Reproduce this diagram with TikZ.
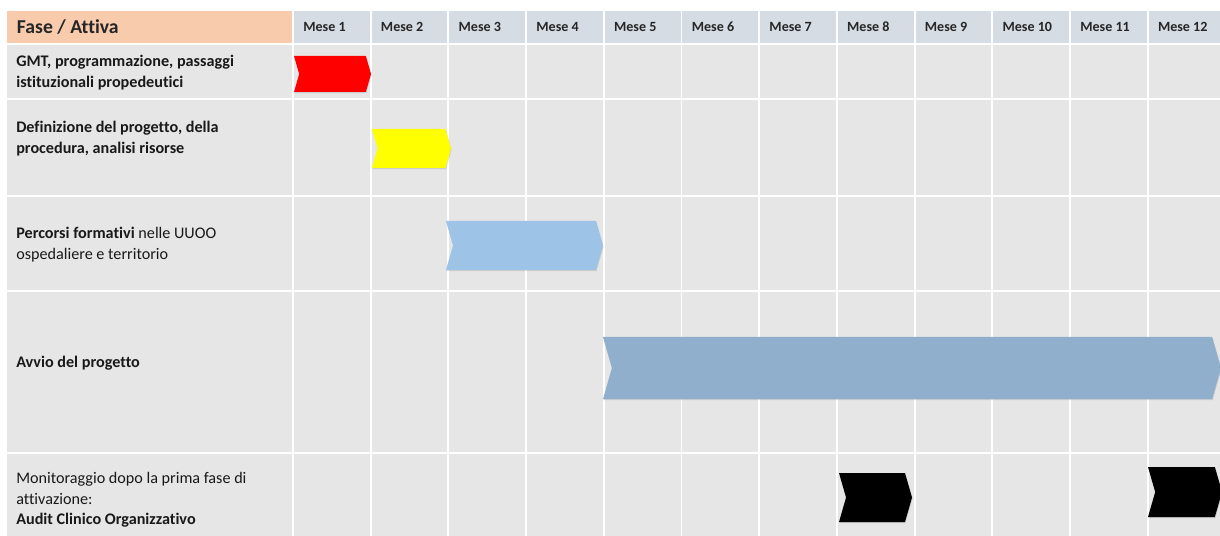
\documentclass[tikz,border=0pt]{standalone}
\usepackage{fontspec}
\setmainfont{Carlito}[Ligatures=NoCommon]
\usetikzlibrary{positioning,shapes.symbols,shadows}
\definecolor{peach}{HTML}{F8CBAD}
\definecolor{headblue}{HTML}{D5DCE4}
\definecolor{cellgray}{HTML}{E7E6E6}
\definecolor{barblue}{HTML}{9DC3E6}
\definecolor{bardark}{HTML}{8FAFCC}
\definecolor{barred}{HTML}{FF0000}
\definecolor{baryellow}{HTML}{FFFF00}

\tikzset{
  cell/.style={draw=white,line width=1.4pt},
  monthlbl/.style={anchor=west,inner sep=0pt,font=\fontsize{10}{12}\selectfont\bfseries,text=black!85},
  phaselbl/.style={anchor=west,align=left,inner sep=0pt,
    font=\fontsize{11.5}{14.5}\selectfont,text=black!90},
  chevron/.style={signal,signal to=east,signal from=west,signal pointer angle=148,
    draw=none,inner sep=0pt,drop shadow={opacity=0.25,shadow xshift=0.4pt,shadow yshift=-0.8pt}}
}

\begin{document}
\begin{tikzpicture}[x=0.025cm,y=-0.025cm]
\useasboundingbox[fill=white] (0,0) rectangle (1220,536);
% header
\draw[cell,fill=peach] (6,10) rectangle (293,44);
\node[anchor=west,font=\fontsize{14}{16}\selectfont\bfseries,text=black!85] (fase) at (12,27) {Fase / Attiva};
\foreach \m in {1,...,12} {
  \draw[cell,fill=headblue] ({293+77.7*(\m-1)},10) rectangle ({293+77.7*\m},44);
  \node[monthlbl] (mese\m) at ({293+77.7*(\m-1)+10},27) {Mese \m};
}
% body cells
\foreach \top/\bot in {44/99,99/196,196/291,291/453,453/540} {
  \draw[cell,fill=cellgray] (6,\top) rectangle (293,\bot);
  \foreach \m in {1,...,12}
    \draw[cell,fill=cellgray] ({293+77.7*(\m-1)},\top) rectangle ({293+77.7*\m},\bot);
}
% phases
\node[phaselbl] (fase1) at (16,72.5) {\textbf{GMT, programmazione, passaggi}\\\textbf{istituzionali propedeutici}};
\node[phaselbl] (fase2) at (16,138.5) {\textbf{Definizione del progetto, della}\\\textbf{procedura, analisi risorse}};
\node[phaselbl] (fase3) at (16,244.5) {\textbf{Percorsi formativi} nelle UUOO\\ospedaliere e territorio};
\node[phaselbl] (fase4) at (16,363) {\textbf{Avvio del progetto}};
\node[phaselbl] (fase5) at (16,500) {Monitoraggio dopo la prima fase di\\attivazione:\\\textbf{Audit Clinico Organizzativo}};
% bars
\node[chevron,fill=barred,minimum width=77*0.025cm,minimum height=36*0.025cm] (bar1) at (332.5,74) {};
\node[chevron,fill=baryellow,minimum width=79*0.025cm,minimum height=39*0.025cm] (bar2) at (411.5,148.5) {};
\node[chevron,fill=barblue,minimum width=157*0.025cm,minimum height=49*0.025cm] (bar3) at (524.5,245.5) {};
\node[chevron,fill=bardark,minimum width=618*0.025cm,minimum height=62*0.025cm] (bar4) at (912,368) {};
\node[chevron,fill=black,minimum width=73*0.025cm,minimum height=49*0.025cm] (bar5) at (875.5,497.5) {};
\node[chevron,fill=black,minimum width=74*0.025cm,minimum height=50*0.025cm] (bar6) at (1185,492) {};
\end{tikzpicture}
\end{document}
